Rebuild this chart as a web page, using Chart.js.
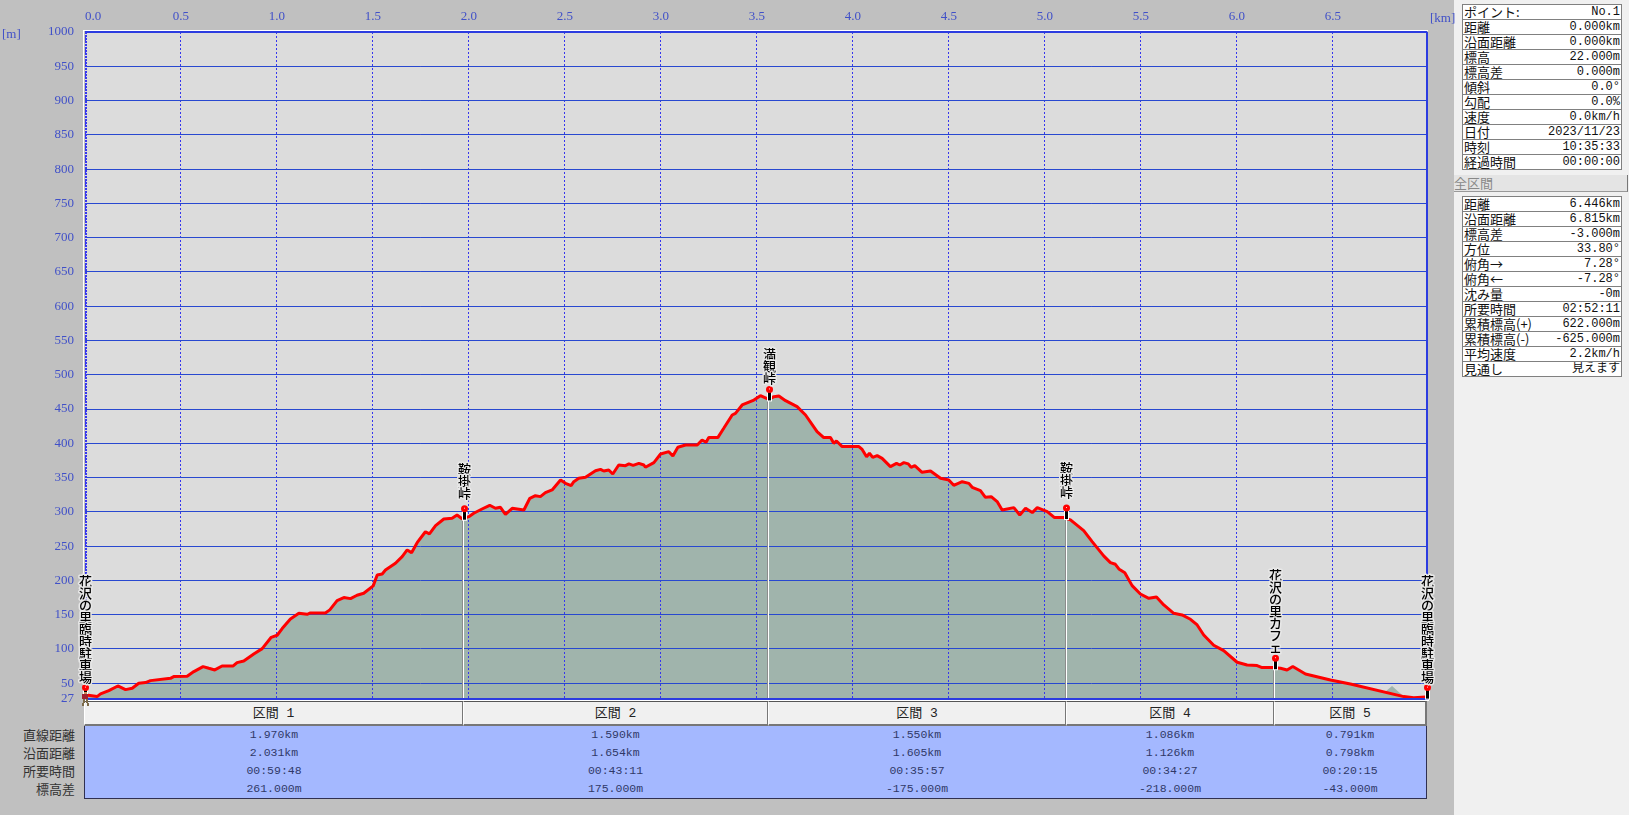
<!DOCTYPE html>
<html lang="ja">
<head>
<meta charset="utf-8">
<title>断面図</title>
<script src="https://cdn.jsdelivr.net/npm/chart.js@4/dist/chart.umd.min.js"></script>
<style>
  html, body { margin: 0; padding: 0; background: #c0c0c0; overflow: hidden; }
  #page { position: relative; width: 1629px; height: 815px; background: #c0c0c0; font-family: "Liberation Mono", "Noto Sans CJK JP", monospace; }
  #chartBox { position: absolute; left: 0; top: 0; z-index: 2; pointer-events: none; }
  .unit { position: absolute; color: #4050c8; font: 13px "Liberation Serif", serif; z-index: 3; }
  .rowName { position: absolute; width: 75px; text-align: right; color: #333; font: 13px "Noto Sans CJK JP", sans-serif; line-height: 18px; }
  .secHead { position: absolute; top: 701px; height: 25px; line-height: 23px; box-sizing: border-box; background: #f0f0f0; text-align: center; font-size: 13px; color: #222;
             border-top: 1px solid #555; border-right: 2px solid #777; border-bottom: 2px solid #777; border-left: 1px solid #fff; }
  .secBody { position: absolute; top: 726px; height: 73px; box-sizing: border-box; background: #a4b8ff; text-align: center; color: #303868; font-size: 11.5px; line-height: 18px;
             border-right: 1px solid #303050; border-bottom: 1px solid #303050; }
  #panel { position: absolute; left: 1454px; top: 0; width: 175px; height: 815px; background: #f0f0f0; }
  #panel table { position: absolute; left: 8px; width: 160px; border-collapse: collapse; background: #fff; table-layout: fixed; border: 1px solid #808080; }
  #panel td { border-top: 1px solid #808080; border-bottom: 1px solid #808080; padding: 0 1px; height: 14px; line-height: 14px; font-size: 12px; color: #111; white-space: nowrap; overflow: hidden; }
  #panel td:first-child { font: 13px/14px "Noto Sans CJK JP", sans-serif; width: 82px; }
  #panel td:last-child { text-align: right; }
  #allBar { position: absolute; left: 0; top: 175px; width: 173px; height: 16px; line-height: 16px; background: #e4e4e4; color: #888; font: 13px/16px "Noto Sans CJK JP", sans-serif; border-right: 1px solid #777; border-bottom: 1px solid #999; }
</style>
</head>
<body>
<div id="page">
  <div id="chartBox"><canvas id="profileChart" width="1629" height="815"></canvas></div>
  <span class="unit" style="left:2px;top:26px">[m]</span>
  <span class="unit" style="left:1430px;top:10px">[km]</span>
  <div id="panel">
    <table id="pointTable" style="top:4px"></table>
    <div id="allBar">全区間</div>
    <table id="totalTable" style="top:196px"></table>
  </div>
</div>

<script>
// route profile
const routeKm = [0.008, 0.063, 0.081, 0.124, 0.171, 0.211, 0.246, 0.280, 0.315, 0.341, 0.445, 0.462, 0.532, 0.567, 0.615, 0.645, 0.676, 0.714, 0.772, 0.792, 0.827, 0.879, 0.923, 0.970, 1.001, 1.027, 1.070, 1.114, 1.157, 1.174, 1.252, 1.275, 1.313, 1.348, 1.383, 1.417, 1.452, 1.501, 1.522, 1.548, 1.565, 1.617, 1.652, 1.678, 1.701, 1.730, 1.773, 1.794, 1.826, 1.869, 1.912, 1.938, 1.964,
  1.999, 2.025, 2.068, 2.108, 2.138, 2.164, 2.190, 2.225, 2.286, 2.317, 2.346, 2.372, 2.398, 2.433, 2.477, 2.503, 2.532, 2.546, 2.572, 2.607, 2.659, 2.685, 2.702, 2.728, 2.749, 2.780, 2.815, 2.833, 2.855, 2.885, 2.911, 2.919, 2.963, 2.998, 3.041, 3.062, 3.088, 3.128, 3.189, 3.214, 3.235, 3.249, 3.296, 3.327, 3.371, 3.388, 3.423, 3.484, 3.518, 3.562, 3.588, 3.614, 3.649,
  3.709, 3.753, 3.813, 3.848, 3.883, 3.900, 3.914, 3.944, 3.996, 4.031, 4.048, 4.071, 4.086, 4.103, 4.126, 4.152, 4.195, 4.227, 4.244, 4.265, 4.288, 4.303, 4.322, 4.360, 4.404, 4.456, 4.482, 4.499, 4.525, 4.569, 4.604, 4.621, 4.664, 4.690, 4.720, 4.751, 4.777, 4.838, 4.869, 4.899, 4.934, 4.960, 5.012, 5.050, 5.099,
  5.133, 5.202, 5.246, 5.306, 5.341, 5.367, 5.385, 5.416, 5.454, 5.497, 5.541, 5.581, 5.619, 5.671, 5.714, 5.758, 5.793, 5.827, 5.879, 5.931, 6.001, 6.053, 6.105, 6.131, 6.183, 6.227, 6.261, 6.291, 6.357, 6.487, 6.591, 6.869, 6.921, 6.982];
const routeM = [32.9, 30.5, 34.4, 39.2, 46, 40.7, 42.7, 50, 51, 53.8, 57.2, 59.7, 60.2, 67, 74.3, 71.8, 69.4, 75.2, 75.2, 80, 82.5, 92.7, 100.5, 117, 120, 129.7, 143.8, 152, 150.6, 152.5, 152.5, 157, 170.5, 175, 173.4, 178.3, 181.2, 192, 208, 209.4, 215.2, 225, 234.7, 244.4, 240.5, 255, 271, 267.8, 280, 289.6, 290.6, 295.4, 290,
  293, 298, 304.2, 309.6, 305.2, 306.6, 296.4, 305.2, 302.7, 319.8, 323.6, 322.2, 328, 332, 346.5, 341.6, 338.2, 344, 349, 350.4, 360, 362, 359.6, 361, 355.2, 368.4, 367.4, 369.9, 367.9, 370.8, 368.4, 365, 371.8, 384.4, 387.8, 381.5, 394.2, 397.6, 397.6, 404.9, 401.5, 408.3, 408.3, 421.9, 441.3, 443.7, 455.9, 463.1, 469.5, 464.1, 468, 469, 462.2,
  453.5, 441.3, 417, 408.3, 408.3, 400, 403.4, 395.2, 395.2, 395.2, 391, 380.5, 385.4, 379.5, 382, 378, 366, 370.8, 368.4, 371.8, 370, 365, 367.4, 357.7, 359.6, 349, 347.5, 346.5, 338.7, 344, 341.6, 335.8, 331, 321.2, 322.2, 315, 302.7, 306.2, 295.5, 305.2, 298.9, 306.2, 300.4, 291.6, 291.6,
  288.2, 272.6, 256.6, 235.7, 225.9, 223.5, 216.7, 211.3, 192.4, 180.2, 173.9, 175.9, 164.2, 152, 149.6, 143.3, 135, 120.4, 105.4, 97.6, 80.6, 76.7, 75.7, 72.8, 72.8, 71.8, 69.4, 74.3, 63.5, 54.8, 49, 30.5, 29, 30];

// terrain that pokes out above the route near the end
const bumpKm = [6.774, 6.808, 6.869];
const bumpM = [38, 46, 30.5];

const xTicks = [0, 0.5, 1, 1.5, 2, 2.5, 3, 3.5, 4, 4.5, 5, 5.5, 6, 6.5, 6.99];
const yTicks = [27, 50, 100, 150, 200, 250, 300, 350, 400, 450, 500, 550, 600, 650, 700, 750, 800, 850, 900, 950, 1000];

// way points
const pinNames = ['花沢の里臨時駐車場', '鞍掛峠', '満観峠', '鞍掛峠', '花沢の里カフェ', '花沢の里臨時駐車場'];
const pinKm = [0, 1.975, 3.565, 5.112, 6.2, 6.99];
const pinM = [43.6, 304.6, 478.6, 305.6, 86.5, 43.6];

// section boundaries
const dividerKm = [1.968, 3.56, 5.108, 6.193];
const dividerM = [292, 470, 292, 72];

// section table
const sectionNames = ['区間 1', '区間 2', '区間 3', '区間 4', '区間 5'];
const rowNames = ['直線距離', '沿面距離', '所要時間', '標高差'];
const straightDist = ['1.970km', '1.590km', '1.550km', '1.086km', '0.791km'];
const surfaceDist = ['2.031km', '1.654km', '1.605km', '1.126km', '0.798km'];
const sectionTimes = ['00:59:48', '00:43:11', '00:35:57', '00:34:27', '00:20:15'];
const sectionDiffs = ['261.000m', '175.000m', '-175.000m', '-218.000m', '-43.000m'];

// side panel
const pointLabels = ['ポイント:', '距離', '沿面距離', '標高', '標高差', '傾斜', '勾配', '速度', '日付', '時刻', '経過時間'];
const pointValues = ['No.1', '0.000km', '0.000km', '22.000m', '0.000m', '0.0°', '0.0%', '0.0km/h', '2023/11/23', '10:35:33', '00:00:00'];
const totalLabels = ['距離', '沿面距離', '標高差', '方位', '俯角→', '俯角←', '沈み量', '所要時間', '累積標高(+)', '累積標高(-)', '平均速度', '見通し'];
const totalValues = ['6.446km', '6.815km', '-3.000m', '33.80°', '7.28°', '-7.28°', '-0m', '02:52:11', '622.000m', '-625.000m', '2.2km/h', '見えます'];

const terrainColor = '#a0b4ac';
const tickColor = '#4050c8';
const tickFont = { family: '"Liberation Serif", serif', size: 13 };

function toPoints(xs, ys) {
    return xs.map((x, i) => ({ x: x, y: ys[i] }));
}

const profilePlugin = {
    id: 'profilePlugin',
    beforeDraw(chart) {
        const a = chart.chartArea;
        const c = chart.ctx;
        c.save();
        c.fillStyle = '#dcdcdc';
        c.fillRect(a.left, a.top, a.right - a.left, a.bottom - a.top);
        c.fillStyle = '#ffffff';
        c.fillRect(a.left - 2, a.top - 2, a.right - a.left + 3, 1);
        c.fillRect(a.left - 2, a.top - 2, 1, a.bottom - a.top + 4);
        c.restore();
    },
    beforeDatasetDraw(chart, args) {
        // grid has to stay visible over the terrain, so it goes again right before the route
        if (args.index !== 1) return;
        const a = chart.chartArea;
        chart.scales.x.drawGrid(a);
        chart.scales.y.drawGrid(a);
        const c = chart.ctx;
        const xs = chart.scales.x;
        const ys = chart.scales.y;
        c.save();
        dividerKm.forEach((km, i) => {
            const x = Math.round(xs.getPixelForValue(km));
            const top = ys.getPixelForValue(dividerM[i]);
            c.fillStyle = '#8c8c8c';
            c.fillRect(x - 1, top, 1, a.bottom - top);
            c.fillStyle = '#ffffff';
            c.fillRect(x, top, 1, a.bottom - top);
        });
        c.restore();
    },
    afterDatasetsDraw(chart) {
        const a = chart.chartArea;
        const c = chart.ctx;
        const xs = chart.scales.x;
        const ys = chart.scales.y;
        c.save();
        // frame
        c.fillStyle = '#2c3ce0';
        c.fillRect(a.left, a.top - 1, a.right - a.left, 2);
        c.fillRect(a.left, a.bottom - 1, a.right - a.left + 1, 2);
        c.fillRect(a.right - 1, a.top, 2, a.bottom - a.top);
        c.fillStyle = '#3636ee';
        for (let y = a.top; y < a.bottom; y += 3) {
            c.fillRect(a.left, y, 2, 2);
        }
        c.fillStyle = '#ffffff';
        c.fillRect(a.left - 2, a.bottom + 1, a.right - a.left + 4, 1);

        // stems, heads and names of the way points
        pinKm.forEach((km, i) => {
            const x = Math.round(xs.getPixelForValue(km));
            const y = ys.getPixelForValue(pinM[i]);
            c.fillStyle = '#ffffff';
            c.fillRect(x - 2, y, 5, 12);
            c.fillStyle = '#000000';
            c.fillRect(x - 1, y, 3, 11);
            c.beginPath();
            c.arc(x + 0.5, y, 3.5, 0, Math.PI * 2);
            c.fillStyle = '#ff0000';
            c.fill();
            c.fillStyle = '#ffd0d0';
            c.fillRect(x, y - 1, 1, 1);

            c.font = '500 13px "Noto Sans CJK JP", sans-serif';
            c.textAlign = 'center';
            c.textBaseline = 'middle';
            c.lineJoin = 'round';
            c.lineWidth = 3;
            const chars = Array.from(pinNames[i]);
            // the pass names sit a little higher above their pins
            const lift = pinNames[i] === '鞍掛峠' ? 5 : 0;
            chars.forEach((ch, k) => {
                const ty = y - 11 - lift - (chars.length - 1 - k) * 12;
                c.strokeStyle = '#e8e8e8';
                c.strokeText(ch, x + 0.5, ty);
                c.fillStyle = '#000000';
                c.fillText(ch, x + 0.5, ty);
            });
        });

        // little walker at the start
        const wx = Math.round(xs.getPixelForValue(pinKm[0]));
        const wy = a.bottom;
        c.fillStyle = '#c89060';
        c.fillRect(wx - 1, wy - 7, 3, 2);
        c.fillStyle = '#a02030';
        c.fillRect(wx - 3, wy - 5, 6, 5);
        c.fillStyle = '#7c6a48';
        c.fillRect(wx - 2, wy, 2, 4);
        c.fillRect(wx + 1, wy, 2, 4);
        c.fillRect(wx - 3, wy + 4, 2, 3);
        c.fillRect(wx + 2, wy + 4, 2, 3);
        c.restore();
    }
};

const ctx = document.getElementById('profileChart').getContext('2d');
const profileChart = new Chart(ctx, {
    type: 'scatter',
    data: {
        datasets: [
            {
                label: 'bump',
                data: toPoints(bumpKm, bumpM),
                showLine: true,
                fill: 'start',
                backgroundColor: terrainColor,
                borderColor: terrainColor,
                borderWidth: 0,
                pointRadius: 0,
                order: 3
            },
            {
                label: '標高',
                data: toPoints(routeKm, routeM),
                showLine: true,
                fill: 'start',
                backgroundColor: terrainColor,
                borderColor: '#ff0000',
                borderWidth: 3,
                borderJoinStyle: 'bevel',
                pointRadius: 0,
                tension: 0,
                order: 1
            }
        ]
    },
    options: {
        responsive: false,
        animation: false,
        layout: { padding: { left: 0, top: 0, right: 202, bottom: 116 } },
        plugins: { legend: { display: false }, tooltip: { enabled: false } },
        scales: {
            x: {
                type: 'linear',
                position: 'top',
                min: 0,
                max: 6.99,
                afterFit(scale) { scale.height = 32; },
                afterBuildTicks(scale) { scale.ticks = xTicks.map(v => ({ value: v })); },
                grid: { color: '#3636ee', lineWidth: 1, drawTicks: false },
                border: { display: false, dash: [2, 2] },
                ticks: {
                    color: tickColor,
                    font: tickFont,
                    padding: 8,
                    align: 'inner',
                    maxRotation: 0,
                    autoSkip: false,
                    callback: v => (v === 6.99 ? '' : v.toFixed(1))
                }
            },
            y: {
                type: 'linear',
                min: 27,
                max: 1000,
                afterFit(scale) { scale.width = 85; },
                afterBuildTicks(scale) { scale.ticks = yTicks.map(v => ({ value: v })); },
                grid: { color: '#2848d0', lineWidth: 1, drawTicks: false },
                border: { display: false },
                ticks: { color: tickColor, font: tickFont, padding: 11, autoSkip: false, callback: v => String(v) }
            }
        }
    },
    plugins: [profilePlugin]
});

// section table under the chart, columns line up with the x scale
const page = document.getElementById('page');
const edges = [profileChart.chartArea.left - 1].concat(dividerKm.map(km => Math.round(profileChart.scales.x.getPixelForValue(km)))).concat([profileChart.chartArea.right - 1]);

rowNames.forEach((name, i) => {
    const d = document.createElement('div');
    d.className = 'rowName';
    d.style.left = '0px';
    d.style.top = (726 + i * 18) + 'px';
    d.textContent = name;
    page.appendChild(d);
});

sectionNames.forEach((name, i) => {
    const left = edges[i] + 'px';
    const width = (edges[i + 1] - edges[i] + 1) + 'px';
    const head = document.createElement('div');
    head.className = 'secHead';
    head.style.left = left;
    head.style.width = width;
    head.textContent = name;
    page.appendChild(head);

    const body = document.createElement('div');
    body.className = 'secBody';
    body.style.left = left;
    body.style.width = width;
    if (i === 0) body.style.borderLeft = '1px solid #303050';
    [straightDist, surfaceDist, sectionTimes, sectionDiffs].forEach(col => {
        const line = document.createElement('div');
        line.textContent = col[i];
        body.appendChild(line);
    });
    page.appendChild(body);
});

function fillTable(id, labels, values) {
    const table = document.getElementById(id);
    labels.forEach((label, i) => {
        const tr = document.createElement('tr');
        const a = document.createElement('td');
        const b = document.createElement('td');
        a.textContent = label;
        b.textContent = values[i];
        tr.appendChild(a);
        tr.appendChild(b);
        table.appendChild(tr);
    });
}
fillTable('pointTable', pointLabels, pointValues);
fillTable('totalTable', totalLabels, totalValues);
</script>
</body>
</html>
